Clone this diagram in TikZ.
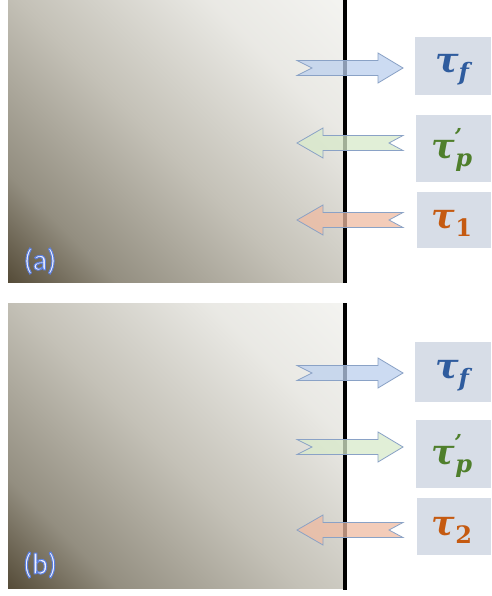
\documentclass[tikz,border=0pt]{standalone}
\usepackage{fontspec}
\newfontfamily\taufont{DejaVu Serif}
\newfontfamily\labfont{Carlito}
\definecolor{dk}{HTML}{4E4430}
\definecolor{md1}{HTML}{938E80}
\definecolor{md2}{HTML}{C4C1B7}
\definecolor{lt}{HTML}{F4F4F1}
\definecolor{boxc}{HTML}{D7DDE7}
\definecolor{arrline}{HTML}{8AA2C6}
\definecolor{fblue}{HTML}{BCD0EE}
\definecolor{fgreen}{HTML}{D8EACA}
\definecolor{fred}{HTML}{EFBBA2}
\definecolor{tblue}{HTML}{2F5C9E}
\definecolor{tgreen}{HTML}{4F7F2C}
\definecolor{tred}{HTML}{C55A11}
\definecolor{labtxt}{HTML}{F0F2FF}
\pgfdeclarehorizontalshading{panelshade}{100bp}{color(0bp)=(dk); color(13bp)=(dk); color(27bp)=(md1); color(48bp)=(md2); color(70bp)=(lt!78!md2); color(86bp)=(lt); color(100bp)=(lt)}
\newcommand\glowtext[1]{\special{pdf:literal direct 2 Tr 1.0 w 0.36 0.5 0.88 RG}#1\special{pdf:literal direct 0 Tr}}
\tikzset{
  panel/.style={shading=panelshade, shading angle=45, draw=none},
  wall/.style={line width=4pt, black},
  labbox/.style={fill=boxc, draw=none, inner sep=0pt},
  taulab/.style={font=\taufont\bfseries\itshape, inner sep=0pt},
  panellab/.style={font=\labfont\fontsize{30}{30}\selectfont, text=labtxt, inner sep=0pt},
  rarr/.pic={\path[draw=arrline, line width=0.8pt, fill=#1, fill opacity=0.75]
     (0,-7.5) -- (81,-7.5) -- (81,-15) -- (106,0) -- (81,15) -- (81,7.5) -- (0,7.5) -- (15,0) -- cycle;},
  larr/.pic={\path[draw=arrline, line width=0.8pt, fill=#1, fill opacity=0.75]
     (0,0) -- (26,-15) -- (26,-7.5) -- (106,-7.5) -- (92,0) -- (106,7.5) -- (26,7.5) -- (26,15) -- cycle;}
}
\newcommand\tausub[1]{{\fontsize{35}{35}\selectfont τ}\raisebox{-8pt}{\fontsize{24}{24}\selectfont #1}}
\newcommand\taunum[1]{{\fontsize{35}{35}\selectfont τ}\raisebox{-8pt}{\fontsize{24}{24}\selectfont\upshape #1}}
\newcommand\tauprime{{\fontsize{35}{35}\selectfont τ}\rlap{\raisebox{14pt}{\fontsize{22}{22}\selectfont\kern-1pt ’}}\raisebox{-8pt}{\fontsize{24}{24}\selectfont p}}
\begin{document}
\begin{tikzpicture}[x=1pt,y=-1pt]
\useasboundingbox[fill=white] (0,0) rectangle (491,596);
% panel (a)
\path[panel] (8,0) rectangle (345,282);
\draw[wall] (345,0) coordinate (wa1) -- (345,283) coordinate (wa2);
\node[panellab] (la) at (40,261) {\glowtext{(a)}};
% panel (b)
\path[panel] (8,303) rectangle (345,588);
\draw[wall] (345,303) coordinate (wb1) -- (345,590) coordinate (wb2);
\node[panellab] (lb) at (40,565) {\glowtext{(b)}};
% boxes (a)
\node[labbox, minimum width=76pt, minimum height=58pt] (ba1) at (453,66) {};
\node[labbox, minimum width=75pt, minimum height=67pt] (ba2) at (453.5,148.5) {};
\node[labbox, minimum width=74pt, minimum height=56pt] (ba3) at (454,220) {};
\node[taulab, text=tblue] (ta1) at (452,70) {\tausub{f}};
\node[taulab, text=tgreen] (ta2) at (452,150) {\tauprime};
\node[taulab, text=tred] (ta3) at (452,223) {\taunum{1}};
% boxes (b)
\node[labbox, minimum width=76pt, minimum height=60pt] (bb1) at (453,372) {};
\node[labbox, minimum width=75pt, minimum height=68pt] (bb2) at (453.5,454) {};
\node[labbox, minimum width=74pt, minimum height=57pt] (bb3) at (454,526.5) {};
\node[taulab, text=tblue] (tb1) at (452,376) {\tausub{f}};
\node[taulab, text=tgreen] (tb2) at (452,456) {\tauprime};
\node[taulab, text=tred] (tb3) at (452,530) {\taunum{2}};
% arrows (a)
\pic at (297,68) {rarr=fblue};
\pic at (297,143) {larr=fgreen};
\pic at (297,220) {larr=fred};
% arrows (b)
\pic at (297,373) {rarr=fblue};
\pic at (297,447) {rarr=fgreen};
\pic at (297,530) {larr=fred};
\end{tikzpicture}
\end{document}
